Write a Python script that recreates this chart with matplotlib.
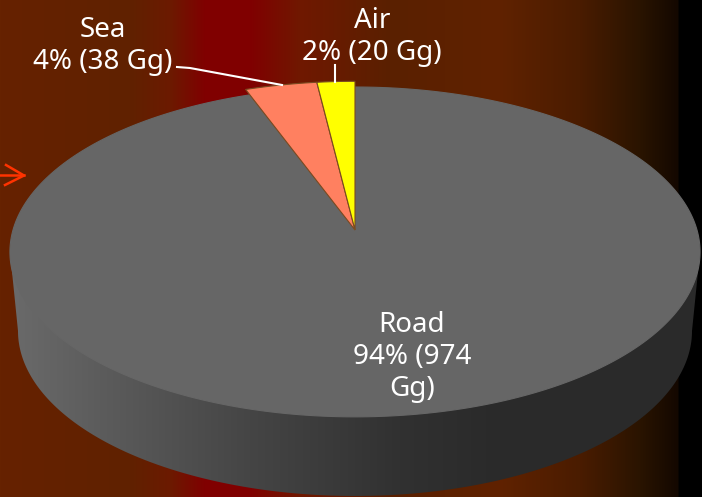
import matplotlib
matplotlib.use('Agg')
import matplotlib.pyplot as plt
import numpy as np
from matplotlib.colors import LinearSegmentedColormap
from matplotlib.patches import Polygon

labels = ['Air', 'Sea', 'Road']
percents = [2, 4, 94]
values = [20, 38, 974]
colors = ['#ffff00', '#ff8060', '#666666']

W, H = 702, 497
APEX_X, APEX_Y = 355, 230
k = 0.133
scale_x, scale_y = 342, 162


def project(theta, r=1.0):
    # tilted disc: theta runs counter-clockwise from 12 o'clock
    x = -r * np.sin(theta)
    y = r * np.cos(theta)
    d = 1 + k * y
    return APEX_X + scale_x * x / d, APEX_Y - scale_y * y / d


def h_gradient(stops, clip=None, zorder=1):
    cmap = LinearSegmentedColormap.from_list('g', [(p / W, c) for p, c in stops], N=W)
    grad = np.linspace(0, 1, W).reshape(1, -1)
    im = ax.imshow(grad, cmap=cmap, extent=(0, W, H, 0), aspect='auto', zorder=zorder, vmin=0, vmax=1)
    if clip is not None:
        im.set_clip_path(clip)
    return im


fig = plt.figure(figsize=(W / 100, H / 100), dpi=100)
ax = fig.add_axes([0, 0, 1, 1])

h_gradient([(0, '#662200'), (130, '#602100'), (170, '#6c1a00'), (205, '#800000'), (250, '#800000'),
            (300, '#701800'), (390, '#5a2000'), (500, '#602200'), (580, '#4a1c00'),
            (640, '#2a1400'), (678, '#140800'), (680, '#000000'), (702, '#000000')])

# side of the disc
t = np.linspace(np.pi, 0, 300)
side_x = np.r_[355 + 337 * np.cos(t), 700, 10]
side_y = np.r_[331 + 165 * np.sin(t), 252, 252]
side = Polygon(np.c_[side_x, side_y], closed=True, fc='none', ec='none', zorder=2)
ax.add_patch(side)
h_gradient([(0, '#6c6c6c'), (100, '#5c5c5c'), (250, '#454545'), (400, '#313131'), (500, '#2a2a2a'),
            (702, '#2a2a2a')], clip=side, zorder=2)

# slices, start at 12 o'clock going counter-clockwise
fractions = np.array(values) / sum(values)
edges = np.r_[0, np.cumsum(fractions)] * 2 * np.pi
lift = [1.04, 1.04, 1.0]
order = [2, 1, 0]
for i in order:
    th = np.linspace(edges[i], edges[i + 1], 400)
    px, py = project(th)
    px = APEX_X + (px - APEX_X) * lift[i]
    py = APEX_Y + (py - APEX_Y) * lift[i]
    ec = colors[i] if i == 2 else '#7a4a20'
    ax.add_patch(Polygon(np.c_[np.r_[APEX_X, px], np.r_[APEX_Y, py]], closed=True, fc=colors[i],
                         ec=ec, lw=0.8, zorder=3))

# leader lines
ax.plot([177, 190, 282], [67, 68, 85], color='white', lw=1.5, zorder=4, solid_joinstyle='miter')
ax.plot([335, 335], [65, 82], color='white', lw=1.5, zorder=4)

# red arrow cut by the left edge
ax.plot([0, 24], [175, 175], color='#ff3300', lw=1.8, zorder=4)
ax.plot([6, 24, 5], [165, 175.5, 185], color='#ff3300', lw=1.8, zorder=4)

font = dict(family='Noto Sans', fontsize=20, color='white', ha='center', va='center', zorder=5, linespacing=1.2)
ax.text(103, 46, f'{labels[1]}\n{percents[1]}% ({values[1]} Gg)', **font)
ax.text(372, 37, f'{labels[0]}\n{percents[0]}% ({values[0]} Gg)', **font)
ax.text(412, 357, f'{labels[2]}\n{percents[2]}% ({values[2]}\nGg)', **font)

ax.set_xlim(0, W)
ax.set_ylim(H, 0)
ax.axis('off')
fig.savefig('out.png', dpi=100)
